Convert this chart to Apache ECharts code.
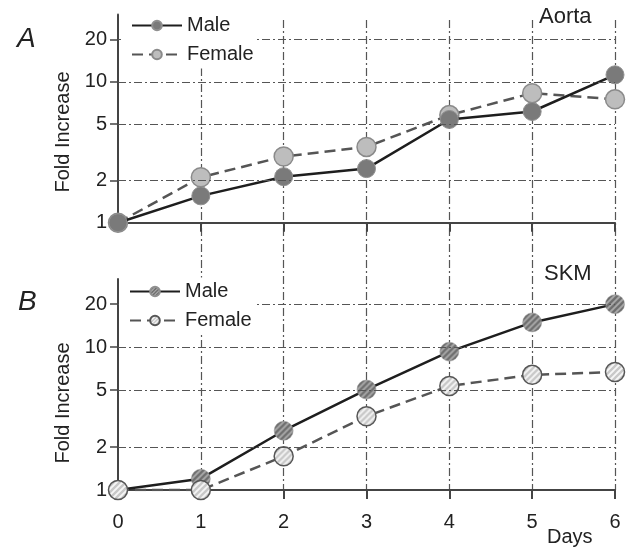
<!DOCTYPE html>
<html>
<head>
<meta charset="utf-8">
<script src="https://cdn.jsdelivr.net/npm/echarts@6/dist/echarts.min.js"></script>
<style>html,body{margin:0;padding:0;background:#fff}#c{width:628px;height:548px}</style>
</head>
<body>
<div id="c"></div>
<script>
const days = [0, 1, 2, 3, 4, 5, 6];
const aortaMale = [1, 1.55, 2.12, 2.42, 5.4, 6.15, 11.2];
const aortaFemale = [1, 2.1, 2.95, 3.45, 5.8, 8.3, 7.5];
const skmMale = [1, 1.2, 2.6, 5.05, 9.3, 14.9, 20];
const skmFemale = [1, 1, 1.72, 3.28, 5.35, 6.4, 6.7];
const yTicks = [1, 2, 5, 10, 20];
const yGridValues = [2, 5, 10, 20];
const xTicks = [1, 2, 3, 4, 5, 6];

const FONT = 'Liberation Sans';
const pair = vals => days.map((d, i) => [d, vals[i]]);
const SYM = 19;

function stripes(bg, fg, scale) {
  const s = 6;
  const c = document.createElement('canvas');
  c.width = s; c.height = s;
  const g = c.getContext('2d');
  g.fillStyle = bg; g.fillRect(0, 0, s, s);
  g.strokeStyle = fg; g.lineWidth = 2.3;
  g.beginPath();
  g.moveTo(-2, 2); g.lineTo(2, -2);
  g.moveTo(-1, s + 1); g.lineTo(s + 1, -1);
  g.moveTo(s - 2, s + 2); g.lineTo(s + 2, s - 2);
  g.stroke();
  return { image: c, repeat: 'repeat', scaleX: scale, scaleY: scale };
}

const dashDot = [8, 3, 2, 3];
const axisColor = '#444';

function xAxisCfg(gi, showLabels) {
  return {
    gridIndex: gi, type: 'value', min: 0, max: 6, interval: 1,
    axisLine: { show: true, onZero: false, lineStyle: { color: axisColor, width: 2 } },
    axisTick: { show: true, customValues: xTicks, length: 9, lineStyle: { color: axisColor, width: 2 } },
    axisLabel: { show: showLabels, color: '#222', fontFamily: FONT, fontSize: 20, margin: 22 },
    splitLine: { show: false }
  };
}
function yAxisCfg(gi) {
  return {
    gridIndex: gi, type: 'log', logBase: 10, min: 1, max: 30,
    axisLine: { show: true, lineStyle: { color: axisColor, width: 2 } },
    axisTick: { show: true, customValues: yTicks, length: 8, lineStyle: { color: axisColor, width: 1.5 } },
    axisLabel: { show: true, customValues: yTicks, color: '#222', fontFamily: FONT, fontSize: 20, margin: 11 },
    splitLine: { show: false }
  };
}
function gridSeries(xi, vals) {
  return {
    type: 'line', xAxisIndex: xi, yAxisIndex: xi, data: pair(vals), z: 1,
    silent: true, showSymbol: false, symbol: 'none',
    lineStyle: { opacity: 0 },
    markLine: {
      silent: true, symbol: ['none', 'none'], animation: false,
      label: { show: false },
      lineStyle: { type: dashDot, color: '#555', width: 1.2 },
      data: yGridValues.map(v => ({ yAxis: v }))
    }
  };
}

const maleBg = '#ababab', maleFg = '#6e6e6e';
const femBg = '#f6f6f6', femFg = '#c8c8c8';

const chart = echarts.init(document.getElementById('c'));
chart.setOption({
  animation: false,
  backgroundColor: '#fff',
  grid: [
    { left: 118, right: 13, top: 14.5, bottom: 325.3 },
    { left: 118, right: 13, top: 279, bottom: 58 },
    { left: 118, right: 13, top: 20, bottom: 58 }
  ],
  xAxis: [
    xAxisCfg(0, false),
    xAxisCfg(1, true),
    { gridIndex: 2, type: 'value', min: 0, max: 6, interval: 1,
      axisLine: { show: false }, axisTick: { show: false }, axisLabel: { show: false },
      splitLine: { show: true, showMinLine: false, lineStyle: { type: dashDot, color: '#555', width: 1.2 } } }
  ],
  yAxis: [
    yAxisCfg(0),
    yAxisCfg(1),
    { gridIndex: 2, type: 'value', min: 0, max: 1, show: false }
  ],
  legend: [
    { data: ['Male', 'Female'], orient: 'vertical', left: 121, top: 11.5,
      padding: [4, 3, 4, 10], itemGap: 9, itemWidth: 50, itemHeight: 12,
      backgroundColor: '#fff', z: 10,
      textStyle: { fontFamily: FONT, fontSize: 20, color: '#222' } },
    { data: [
        { name: 'Male ', itemStyle: { color: stripes(maleBg, maleFg, 0.6) } },
        { name: 'Female ', itemStyle: { color: stripes(femBg, femFg, 0.6) } }
      ],
      orient: 'vertical', left: 119, top: 277.5,
      padding: [4, 3, 4, 10], itemGap: 9, itemWidth: 50, itemHeight: 12,
      backgroundColor: '#fff', z: 10,
      formatter: n => n.trim(),
      textStyle: { fontFamily: FONT, fontSize: 20, color: '#222' } }
  ],
  graphic: [
    { type: 'text', left: 17, top: 25, style: { text: 'A', font: 'italic 28px "Liberation Sans"', fill: '#222' } },
    { type: 'text', left: 18, top: 288, style: { text: 'B', font: 'italic 28px "Liberation Sans"', fill: '#222' } },
    { type: 'text', left: 539, top: 6, style: { text: 'Aorta', font: '22px "Liberation Sans"', fill: '#222' } },
    { type: 'text', left: 544, top: 263, style: { text: 'SKM', font: '22px "Liberation Sans"', fill: '#222' } },
    { type: 'text', left: 547, top: 527, style: { text: 'Days', font: '20px "Liberation Sans"', fill: '#222' } },
    { type: 'text', x: 63, y: 132, rotation: Math.PI / 2,
      style: { text: 'Fold Increase', font: '20px "Liberation Sans"', fill: '#222', align: 'center', verticalAlign: 'middle' } },
    { type: 'text', x: 63, y: 403, rotation: Math.PI / 2,
      style: { text: 'Fold Increase', font: '20px "Liberation Sans"', fill: '#222', align: 'center', verticalAlign: 'middle' } }
  ],
  series: [
    gridSeries(0, aortaMale),
    gridSeries(1, skmMale),
    { name: 'Female', type: 'line', xAxisIndex: 0, yAxisIndex: 0, data: pair(aortaFemale), z: 3,
      symbol: 'circle', symbolSize: SYM,
      lineStyle: { color: '#555', width: 2.5, type: [11, 6] },
      itemStyle: { color: '#bdbdbd', borderColor: '#8a8a8a', borderWidth: 1.5 } },
    { name: 'Male', type: 'line', xAxisIndex: 0, yAxisIndex: 0, data: pair(aortaMale), z: 4,
      symbol: 'circle', symbolSize: 18,
      lineStyle: { color: '#1e1e1e', width: 2.5 },
      itemStyle: { color: '#7a7a7a', borderColor: '#909090', borderWidth: 1 } },
    { name: 'Male ', type: 'line', xAxisIndex: 1, yAxisIndex: 1, data: pair(skmMale), z: 3,
      symbol: 'circle', symbolSize: SYM,
      lineStyle: { color: '#1e1e1e', width: 2.5 },
      itemStyle: { color: stripes(maleBg, maleFg, 2 / SYM), borderColor: '#909090', borderWidth: 0.5 } },
    { name: 'Female ', type: 'line', xAxisIndex: 1, yAxisIndex: 1, data: pair(skmFemale), z: 4,
      symbol: 'circle', symbolSize: SYM,
      lineStyle: { color: '#555', width: 2.5, type: [11, 6] },
      itemStyle: { color: stripes(femBg, femFg, 2 / SYM), borderColor: '#555', borderWidth: 1.5 } }
  ]
});
</script>
</body>
</html>
